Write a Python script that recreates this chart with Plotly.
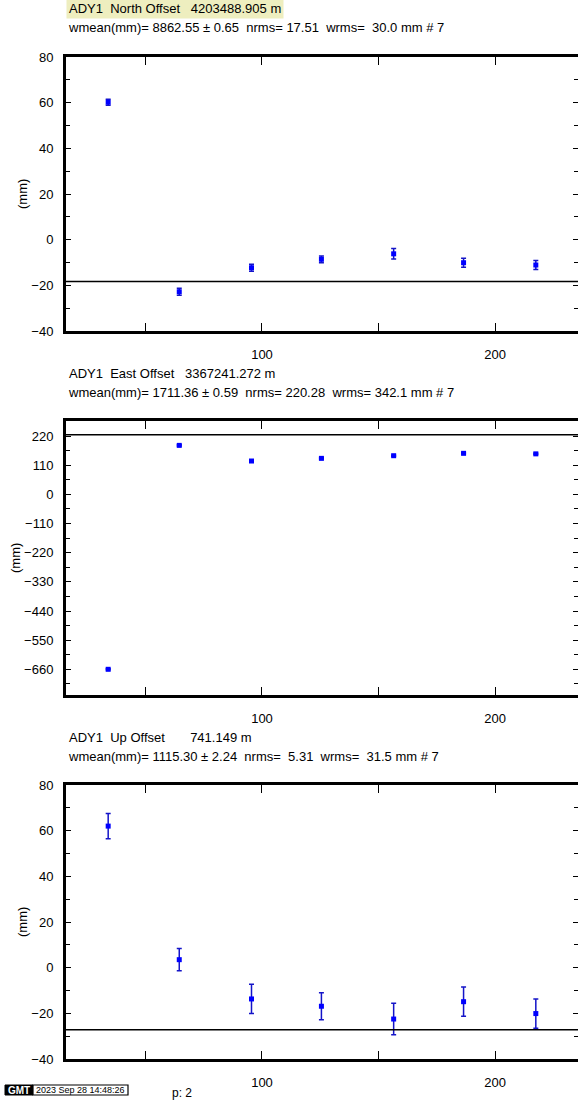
import plotly.graph_objects as go

# ---- data ----
days = [34, 64.5, 95.5, 125.5, 156.5, 186.5, 217.5]

north = [60.2, -22.8, -12.3, -8.6, -6.2, -10.1, -11.1]
north_err = [1.3, 1.5, 1.5, 1.5, 2.3, 2.0, 2.0]
north_ref = -18.3

east = [-660, 185, 126, 136, 146, 155, 153]
east_err = [2, 2, 2, 2, 2, 2, 2]
east_ref = 225

up = [62, 3.5, -13.7, -16.9, -22.5, -14.9, -20.1]
up_err = [5.5, 4.9, 6.4, 5.9, 6.9, 6.4, 6.4]
up_ref = -27.2

titles = [
    "ADY1  North Offset   4203488.905 m",
    "ADY1  East Offset   3367241.272 m",
    "ADY1  Up Offset       741.149 m",
]
subtitles = [
    "wmean(mm)= 8862.55 ± 0.65  nrms= 17.51  wrms=  30.0 mm # 7",
    "wmean(mm)= 1711.36 ± 0.59  nrms= 220.28  wrms= 342.1 mm # 7",
    "wmean(mm)= 1115.30 ± 2.24  nrms=  5.31  wrms=  31.5 mm # 7",
]
stamp = "2023 Sep 28 14:48:26"
page_label = "p: 2"

FONT = "Liberation Sans, Arial, sans-serif"
FS = 13
W, H = 578, 1112

# panel pixel frames (top, bottom)
frames = [(57, 331), (421, 695), (785, 1059)]
yranges = [[-40, 80], [-757, 277], [-40, 80]]
ydticks = [20, 110, 20]
yminor = [10, 55, 10]
xrange_ = [15.9, 235.6]
x_left = 66
ylabel_x = [22, 15, 22]

series = [(north, north_err, north_ref), (east, east_err, east_ref), (up, up_err, up_ref)]

fig = go.Figure()
layout = dict(
    width=W, height=H, margin=dict(l=0, r=0, t=0, b=0, autoexpand=False),
    paper_bgcolor="white", plot_bgcolor="white", showlegend=False,
    font=dict(family=FONT, size=FS, color="black"),
)
annotations = []
shapes = []

for i, ((vals, errs, ref), (top, bot)) in enumerate(zip(series, frames)):
    n = "" if i == 0 else str(i + 1)
    nr = str(i + 4)
    xa = "x" + n
    ya = "y" + n
    fig.add_trace(go.Scatter(
        x=days, y=vals, mode="markers", xaxis=xa, yaxis=ya,
        marker=dict(symbol="square", size=5, color="#0000ff"),
        error_y=dict(type="data", array=errs, visible=True, color="#1414c8",
                     thickness=1.5, width=2.5),
    ))
    dom_y = [1 - bot / H, 1 - top / H]
    layout["xaxis" + n] = dict(
        domain=[x_left / W, 1.0], range=xrange_, anchor=ya, automargin=False,
        showline=True, linewidth=3, linecolor="black", mirror="allticks",
        ticks="inside", ticklen=8, tickwidth=1.3, tickcolor="black",
        dtick=100, tick0=0, showgrid=False, zeroline=False,
        ticklabelstandoff=9,
        minor=dict(ticks="inside", ticklen=4, dtick=50, tick0=0, tickcolor="black",
                   tickwidth=1.3, showgrid=False),
        tickfont=dict(family=FONT, size=FS, color="black"),
    )
    layout["yaxis" + n] = dict(
        domain=dom_y, range=yranges[i], anchor=xa, automargin=False,
        showline=True, linewidth=3, linecolor="black", mirror=False,
        ticks="inside", ticklen=5, tickwidth=1.3, tickcolor="black",
        dtick=ydticks[i], tick0=0, showgrid=False, zeroline=False,
        ticklabelstandoff=7,
        minor=dict(ticks="inside", ticklen=4, dtick=yminor[i], tick0=0, tickcolor="black",
                   tickwidth=1.3, showgrid=False),
        tickfont=dict(family=FONT, size=FS, color="black"),
    )
    # right-side tick axis without a frame line (frame lies beyond the page edge)
    layout["yaxis" + nr] = dict(
        domain=dom_y, range=yranges[i], overlaying=ya, anchor=xa, side="right",
        automargin=False, showline=False, showticklabels=False,
        ticks="inside", ticklen=5, tickwidth=1.3, tickcolor="black",
        dtick=ydticks[i], tick0=0, showgrid=False, zeroline=False,
        minor=dict(ticks="inside", ticklen=4, dtick=yminor[i], tick0=0, tickcolor="black",
                   tickwidth=1.3, showgrid=False),
    )
    fig.add_trace(go.Scatter(x=[], y=[], xaxis=xa, yaxis="y" + nr, mode="markers",
                             hoverinfo="skip"))
    shapes.append(dict(type="line", xref=xa + " domain", yref=ya, x0=0, x1=1,
                       y0=ref, y1=ref, line=dict(color="black", width=1.5)))
    # titles
    annotations.append(dict(
        text=titles[i], x=x_left / W, y=1 - (top - 48) / H, xref="paper", yref="paper",
        xanchor="left", yanchor="middle", showarrow=False,
        font=dict(family=FONT, size=FS, color="black"),
        bgcolor="#eeeebf" if i == 0 else "rgba(0,0,0,0)", borderpad=2,
    ))
    annotations.append(dict(
        text=subtitles[i], x=x_left / W, y=1 - (top - 29) / H, xref="paper", yref="paper",
        xanchor="left", yanchor="middle", showarrow=False,
        font=dict(family=FONT, size=FS, color="black"),
    ))
    annotations.append(dict(
        text="(mm)", x=ylabel_x[i] / W, y=1 - ((top + bot) / 2) / H, xref="paper", yref="paper",
        xanchor="center", yanchor="middle", showarrow=False, textangle=-90,
        font=dict(family=FONT, size=FS, color="black"),
    ))

# GMT timestamp box
shapes.append(dict(type="rect", xref="paper", yref="paper",
                   x0=5 / W, x1=33 / W, y0=1 - 1095 / H, y1=1 - 1085 / H,
                   fillcolor="black", line=dict(color="black", width=1)))
shapes.append(dict(type="rect", xref="paper", yref="paper",
                   x0=33 / W, x1=128 / W, y0=1 - 1095 / H, y1=1 - 1085 / H,
                   fillcolor="white", line=dict(color="black", width=1.2)))
annotations.append(dict(text="<b>GMT</b>", x=19 / W, y=1 - 1090 / H, xref="paper", yref="paper",
                        xanchor="center", yanchor="middle", showarrow=False,
                        font=dict(family=FONT, size=10, color="white")))
annotations.append(dict(text=stamp, x=80.5 / W, y=1 - 1090 / H, xref="paper", yref="paper",
                        xanchor="center", yanchor="middle", showarrow=False,
                        font=dict(family=FONT, size=9, color="black")))
annotations.append(dict(text=page_label, x=170 / W, y=1 - 1093 / H, xref="paper", yref="paper",
                        xanchor="left", yanchor="middle", showarrow=False,
                        font=dict(family=FONT, size=12, color="black")))

layout["annotations"] = annotations
layout["shapes"] = shapes
fig.update_layout(**layout)
fig.write_html("out.html")
